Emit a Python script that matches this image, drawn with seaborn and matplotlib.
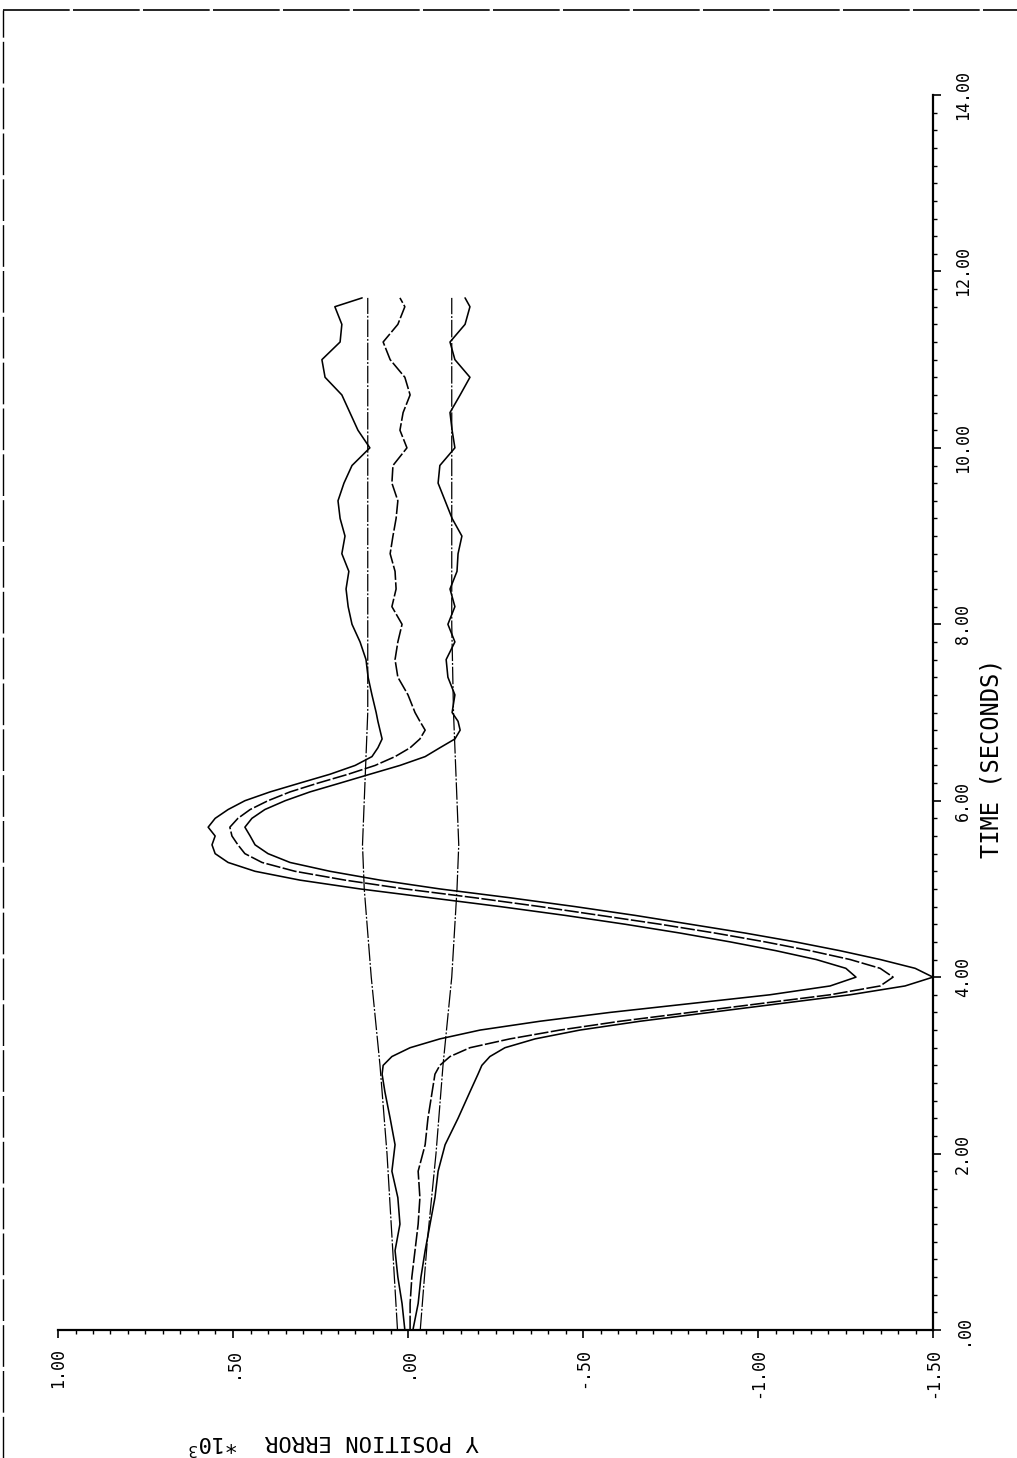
import numpy as np
import pandas as pd
import matplotlib
matplotlib.use("Agg")
import matplotlib.pyplot as plt
from matplotlib.lines import Line2D
from matplotlib.ticker import MultipleLocator, FixedLocator
import seaborn as sns

# Time samples (seconds)
time_s = [0.0, 0.3, 0.6, 0.9, 1.2, 1.5, 1.8, 2.1, 2.4, 2.7, 2.9,
          3.0, 3.1, 3.2, 3.3, 3.4, 3.5, 3.6, 3.7, 3.8, 3.9,
          4.0, 4.1, 4.2, 4.3, 4.4, 4.5, 4.6, 4.7, 4.8, 4.9,
          5.0, 5.1, 5.2, 5.3, 5.4, 5.5, 5.6, 5.7, 5.8, 5.9,
          6.0, 6.1, 6.2, 6.3, 6.4, 6.5, 6.6, 6.7, 6.8, 6.9,
          7.0, 7.2, 7.4, 7.6, 7.8, 8.0, 8.2, 8.4, 8.6, 8.8,
          9.0, 9.2, 9.4, 9.6, 9.8, 10.0, 10.2, 10.4, 10.6, 10.8,
          11.0, 11.2, 11.4, 11.6, 11.7]

# Y position error (x 10^3): upper, mean and lower runs
err_upper = [0.009, 0.017, 0.029, 0.037, 0.023, 0.029, 0.046, 0.037, 0.051, 0.066, 0.074,
             0.071, 0.046, -0.006, -0.091, -0.206, -0.377, -0.577, -0.806, -1.034, -1.206,
             -1.280, -1.251, -1.166, -1.051, -0.920, -0.777, -0.620, -0.449, -0.263, -0.063,
             0.137, 0.309, 0.437, 0.514, 0.551, 0.560, 0.551, 0.571, 0.551, 0.514,
             0.466, 0.394, 0.309, 0.223, 0.151, 0.103, 0.086, 0.074, 0.080, 0.086,
             0.091, 0.103, 0.114, 0.120, 0.137, 0.160, 0.171, 0.177, 0.169, 0.189,
             0.180, 0.194, 0.200, 0.183, 0.160, 0.109, 0.143, 0.166, 0.189, 0.237,
             0.246, 0.194, 0.189, 0.209, 0.131]
err_mean = [-0.006, -0.006, -0.011, -0.020, -0.029, -0.034, -0.029, -0.049, -0.057, -0.069, -0.077,
            -0.091, -0.120, -0.177, -0.291, -0.434, -0.606, -0.806, -1.006, -1.206, -1.349,
            -1.386, -1.349, -1.263, -1.149, -1.020, -0.877, -0.720, -0.549, -0.377, -0.191,
            0.009, 0.180, 0.323, 0.417, 0.466, 0.486, 0.503, 0.509, 0.486, 0.451,
            0.400, 0.337, 0.257, 0.171, 0.094, 0.037, -0.006, -0.034, -0.049, -0.034,
            -0.020, 0.000, 0.029, 0.037, 0.029, 0.017, 0.046, 0.034, 0.037, 0.051,
            0.043, 0.034, 0.029, 0.046, 0.043, 0.003, 0.023, 0.014, -0.006, 0.009,
            0.051, 0.071, 0.029, 0.009, 0.023]
err_lower = [-0.014, -0.029, -0.037, -0.049, -0.063, -0.077, -0.086, -0.106, -0.143, -0.177, -0.200,
             -0.211, -0.234, -0.277, -0.363, -0.491, -0.663, -0.863, -1.063, -1.263, -1.420,
             -1.500, -1.449, -1.349, -1.234, -1.106, -0.963, -0.806, -0.649, -0.477, -0.291,
             -0.091, 0.080, 0.223, 0.337, 0.400, 0.437, 0.451, 0.466, 0.446, 0.409,
             0.351, 0.280, 0.194, 0.109, 0.023, -0.049, -0.091, -0.134, -0.149, -0.143,
             -0.126, -0.134, -0.114, -0.109, -0.134, -0.114, -0.134, -0.120, -0.140, -0.143,
             -0.154, -0.126, -0.106, -0.086, -0.091, -0.134, -0.126, -0.120, -0.149, -0.177,
             -0.134, -0.120, -0.163, -0.177, -0.163]

# Predicted one-sigma bounds
sigma_time = [0.0, 1.0, 2.0, 3.0, 4.0, 5.0, 5.5, 6.0, 7.0, 8.0, 9.0, 10.0, 11.0, 11.7]
sigma_upper = [0.030, 0.045, 0.060, 0.080, 0.105, 0.125, 0.130, 0.125, 0.115, 0.115, 0.115, 0.115, 0.115, 0.115]
sigma_lower = [-0.035, -0.055, -0.080, -0.100, -0.125, -0.140, -0.145, -0.140, -0.130, -0.125, -0.125, -0.125, -0.125, -0.125]

x_ticks = [1.0, 0.5, 0.0, -0.5, -1.0, -1.5]
x_tick_labels = ["1.00", ".50", ".00", "-.50", "-1.00", "-1.50"]
y_ticks = [0, 2, 4, 6, 8, 10, 12, 14]
y_tick_labels = [".00", "2.00", "4.00", "6.00", "8.00", "10.00", "12.00", "14.00"]

sns.set_theme(style="white")
plt.rcParams["font.family"] = ["DejaVu Sans Mono", "DejaVu Sans"]

W, H = 1017, 1458
fig = plt.figure(figsize=(W / 100, H / 100), dpi=100)
fig.patch.set_facecolor("white")

ax = fig.add_axes([58 / W, 128 / H, 875 / W, 1235 / H])
ax.set_facecolor("white")

runs = pd.DataFrame({"time": time_s, "upper": err_upper, "mean": err_mean, "lower": err_lower})
bounds = pd.DataFrame({"time": sigma_time, "upper": sigma_upper, "lower": sigma_lower})

lw = 1.15
sns.lineplot(data=runs, x="upper", y="time", sort=False, estimator=None,
             color="black", lw=lw, ax=ax)
sns.lineplot(data=runs, x="mean", y="time", sort=False, estimator=None,
             color="black", lw=lw, ax=ax)
ax.lines[-1].set_dashes((9, 1.5))
sns.lineplot(data=runs, x="lower", y="time", sort=False, estimator=None,
             color="black", lw=lw, ax=ax)
for col in ["upper", "lower"]:
    sns.lineplot(data=bounds, x=col, y="time", sort=False, estimator=None,
                 color="black", lw=0.9, ax=ax)
    ax.lines[-1].set_dashes((14, 1.5, 1.5, 1.5))

ax.set_xlim(1.0, -1.5)
ax.set_ylim(0, 14)

for side in ["top", "left"]:
    ax.spines[side].set_visible(False)
for side in ["bottom", "right"]:
    ax.spines[side].set_color("black")
    ax.spines[side].set_linewidth(1.6)

ax.yaxis.tick_right()
ax.xaxis.set_major_locator(FixedLocator(x_ticks))
ax.xaxis.set_minor_locator(MultipleLocator(0.05))
ax.yaxis.set_major_locator(FixedLocator(y_ticks))
ax.yaxis.set_minor_locator(MultipleLocator(0.2))
ax.set_xticklabels(x_tick_labels)
ax.set_yticklabels(y_tick_labels)

ax.tick_params(axis="both", which="major", direction="out", length=6, width=1.2,
               color="black", labelsize=12, labelcolor="black")
ax.tick_params(axis="both", which="minor", direction="out", length=3, width=1.0,
               color="black")
ax.tick_params(axis="x", which="major", pad=7)
ax.tick_params(axis="y", which="major", pad=9)
ax.tick_params(axis="y", which="both", left=False, right=True)
ax.tick_params(axis="x", which="both", bottom=True, top=False)

for lab in ax.get_xticklabels():
    lab.set_rotation(90)
    lab.set_ha("center")
    lab.set_va("top")
for lab in ax.get_yticklabels():
    lab.set_rotation(90)
    lab.set_ha("left")
    lab.set_va("center")

ax.set_xlabel("")
ax.set_ylabel("")

# Axis titles
fig.text(992 / W, 1 - 758 / H, "TIME (SECONDS)", rotation=90,
         ha="center", va="center", fontsize=17, color="black")
fig.text(372 / W, 1 - 1441 / H, "Y POSITION ERROR", rotation=180,
         ha="center", va="center", fontsize=16, color="black")
fig.text(214 / W, 1 - 1443 / H, r"*10$^{3}$", rotation=180,
         ha="center", va="center", fontsize=16, color="black")

# Page frame
fig.add_artist(Line2D([3 / W, 1.0], [1 - 10 / H, 1 - 10 / H], transform=fig.transFigure,
                      color="black", lw=1.2, dashes=(40, 2)))
fig.add_artist(Line2D([3 / W, 3 / W], [0.0, 1 - 10 / H], transform=fig.transFigure,
                      color="black", lw=1.0, dashes=(30, 3)))

fig.savefig("out.png", dpi=100, facecolor="white")
